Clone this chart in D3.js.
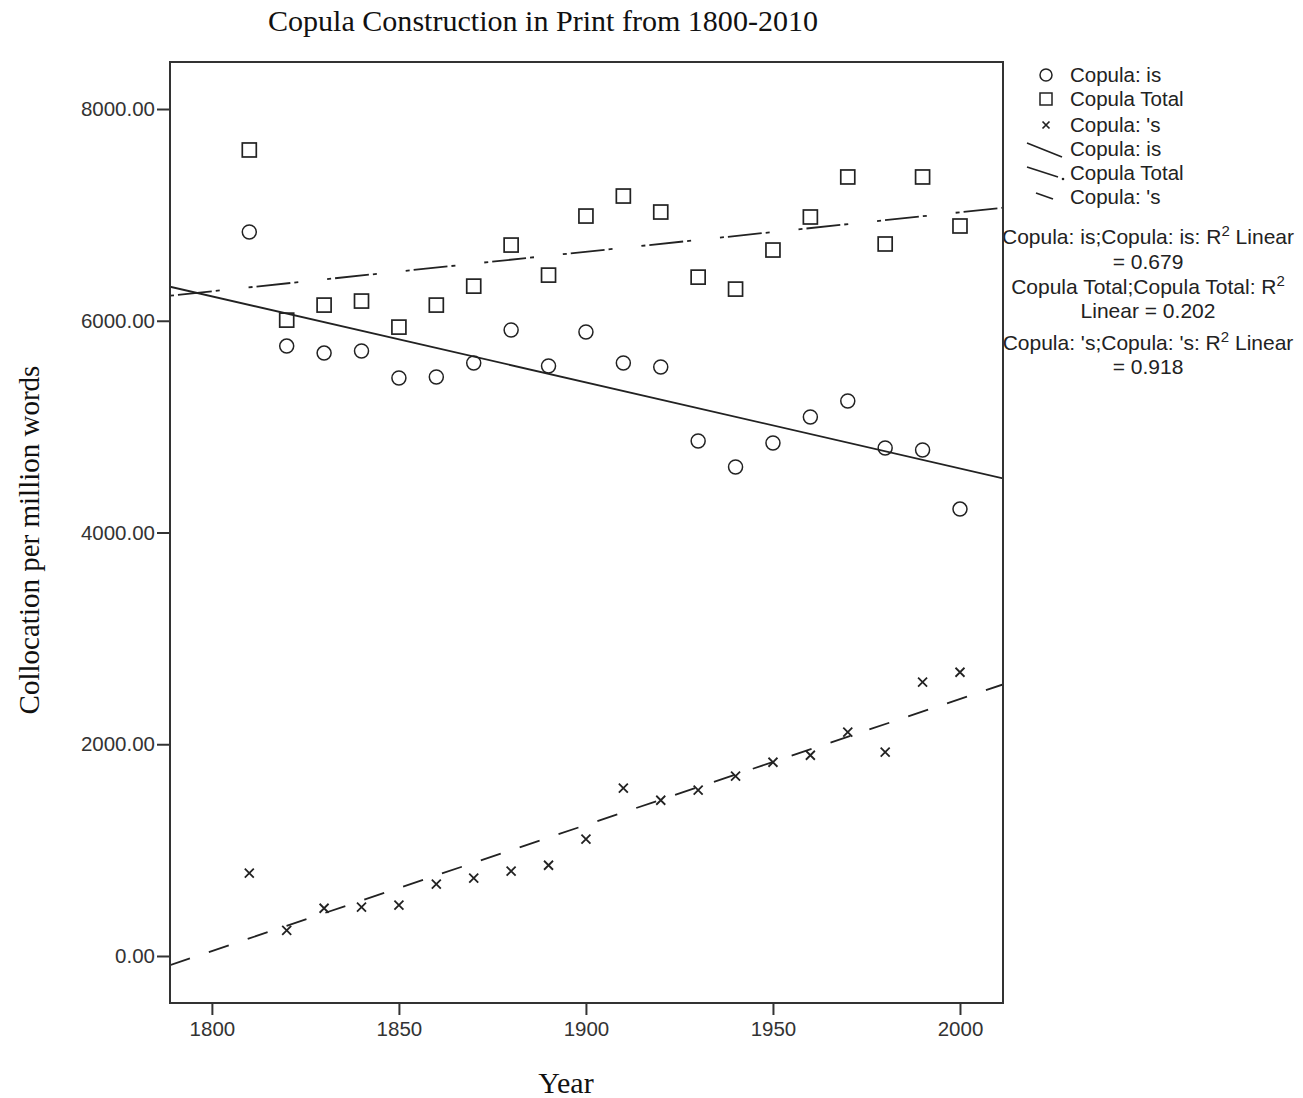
<!DOCTYPE html>
<html>
<head>
<meta charset="utf-8">
<script src="https://cdn.jsdelivr.net/npm/d3@7"></script>
<style>
  body { margin: 0; background: #fff; }
  svg { display: block; }
</style>
</head>
<body>
<svg id="chart" width="1303" height="1098"></svg>
<script>
const years = [1810, 1820, 1830, 1840, 1850, 1860, 1870, 1880, 1890, 1900,
  1910, 1920, 1930, 1940, 1950, 1960, 1970, 1980, 1990, 2000];
const copulaIs = [6838, 5761, 5695, 5714, 5459, 5469, 5601, 5913, 5573, 5894,
  5601, 5563, 4864, 4619, 4845, 5091, 5242, 4798, 4779, 4221];
const copulaTotal = [7613, 6006, 6148, 6186, 5940, 6148, 6327, 6715, 6431, 6989,
  7178, 7027, 6412, 6299, 6668, 6980, 7358, 6725, 7358, 6895];
const copulaS = [782, 243, 451, 461, 480, 678, 735, 801, 857, 1103,
  1585, 1471, 1566, 1698, 1830, 1896, 2114, 1925, 2586, 2680];
const xTicks = [1800, 1850, 1900, 1950, 2000];
const yTicks = [0, 2000, 4000, 6000, 8000];
const seriesNames = ["Copula: is", "Copula Total", "Copula: 's"];
const r2Lines = [
  ["Copula: is;Copula: is: R", "2", " Linear"],
  ["= 0.679"],
  ["Copula Total;Copula Total: R", "2", ""],
  ["Linear = 0.202"],
  ["Copula: 's;Copula: 's: R", "2", " Linear"],
  ["= 0.918"]
];

const ink = "#222";
const svg = d3.select("#chart");

const pLeft = 170, pRight = 1003, pTop = 62, pBottom = 1003;
const x = d3.scaleLinear().domain([1788.8, 2011.5]).range([pLeft, pRight]);
const y = d3.scaleLinear().domain([-444, 8444]).range([pBottom, pTop]);

// least squares fit line
function fit(xs, ys) {
  const mx = d3.mean(xs), my = d3.mean(ys);
  let sxy = 0, sxx = 0;
  xs.forEach((v, i) => { sxy += (v - mx) * (ys[i] - my); sxx += (v - mx) ** 2; });
  const b = sxy / sxx;
  return (t) => my + b * (t - mx);
}

// title
svg.append("text")
  .attr("x", 543).attr("y", 31)
  .attr("text-anchor", "middle")
  .style("font-family", "Liberation Serif, serif")
  .style("font-size", "30px")
  .attr("textLength", 550)
  .attr("lengthAdjust", "spacingAndGlyphs")
  .attr("fill", "#111")
  .text("Copula Construction in Print from 1800-2010");

// axis titles
svg.append("text")
  .attr("transform", "translate(39,540) rotate(-90)")
  .attr("text-anchor", "middle")
  .style("font-family", "Liberation Serif, serif")
  .style("font-size", "29px")
  .attr("fill", "#111")
  .text("Collocation per million words");

svg.append("text")
  .attr("x", 566).attr("y", 1093)
  .attr("text-anchor", "middle")
  .style("font-family", "Liberation Serif, serif")
  .style("font-size", "30px")
  .attr("fill", "#111")
  .text("Year");

svg.append("clipPath").attr("id", "plotclip")
  .append("rect").attr("x", pLeft).attr("y", pTop)
  .attr("width", pRight - pLeft).attr("height", pBottom - pTop);

const plot = svg.append("g").attr("clip-path", "url(#plotclip)");

// fit lines
const lineStyles = [null, "4,4,34,4,4,29", "21,20"];
[copulaIs, copulaTotal, copulaS].forEach((vals, i) => {
  const f = fit(years, vals);
  const d0 = x.domain()[0], d1 = x.domain()[1];
  plot.append("line")
    .attr("x1", x(d0)).attr("y1", y(f(d0)))
    .attr("x2", x(d1)).attr("y2", y(f(d1)))
    .attr("stroke", ink)
    .attr("stroke-width", 1.8)
    .attr("stroke-dasharray", lineStyles[i]);
});

// markers
plot.selectAll("circle.is").data(years).enter().append("circle")
  .attr("class", "is")
  .attr("cx", (d) => x(d))
  .attr("cy", (d, i) => y(copulaIs[i]))
  .attr("r", 7)
  .attr("fill", "none").attr("stroke", ink).attr("stroke-width", 1.5);

plot.selectAll("rect.total").data(years).enter().append("rect")
  .attr("class", "total")
  .attr("x", (d) => x(d) - 7)
  .attr("y", (d, i) => y(copulaTotal[i]) - 7)
  .attr("width", 14).attr("height", 14)
  .attr("fill", "none").attr("stroke", ink).attr("stroke-width", 1.7);

plot.selectAll("path.s").data(years).enter().append("path")
  .attr("class", "s")
  .attr("d", (d, i) => {
    const cx = x(d), cy = y(copulaS[i]), r = 4.5;
    return `M${cx - r},${cy - r}L${cx + r},${cy + r}M${cx - r},${cy + r}L${cx + r},${cy - r}`;
  })
  .attr("stroke", ink).attr("stroke-width", 1.8);

// frame
svg.append("rect")
  .attr("x", pLeft).attr("y", pTop)
  .attr("width", pRight - pLeft).attr("height", pBottom - pTop)
  .attr("fill", "none").attr("stroke", "#333").attr("stroke-width", 2);

// axes
const yAxis = svg.append("g")
  .attr("transform", `translate(${pLeft},0)`)
  .call(d3.axisLeft(y).tickValues(yTicks).tickFormat(d3.format(".2f")).tickSize(13).tickPadding(2));
const xAxis = svg.append("g")
  .attr("transform", `translate(0,${pBottom})`)
  .call(d3.axisBottom(x).tickValues(xTicks).tickFormat(d3.format("d")).tickSize(12).tickPadding(6));
[yAxis, xAxis].forEach((g) => {
  g.select(".domain").remove();
  g.selectAll("line").attr("stroke", "#333").attr("stroke-width", 2);
  g.selectAll("text")
    .style("font-family", "Liberation Sans, Arial, sans-serif")
    .style("font-size", "20.5px")
    .attr("fill", "#333");
});

// legend
const legendFont = "Liberation Sans, Arial, sans-serif";
const lg = svg.append("g");
const rowY = [75, 99, 125, 149, 173, 197];
lg.append("circle").attr("cx", 1046).attr("cy", rowY[0]).attr("r", 6)
  .attr("fill", "none").attr("stroke", ink).attr("stroke-width", 1.5);
lg.append("rect").attr("x", 1040).attr("y", rowY[1] - 6).attr("width", 12).attr("height", 12)
  .attr("fill", "none").attr("stroke", ink).attr("stroke-width", 1.5);
lg.append("path")
  .attr("d", `M1042.5,${rowY[2] - 3.5}L1049.5,${rowY[2] + 3.5}M1042.5,${rowY[2] + 3.5}L1049.5,${rowY[2] - 3.5}`)
  .attr("stroke", ink).attr("stroke-width", 1.7);
lg.append("line").attr("x1", 1027).attr("y1", 143).attr("x2", 1062).attr("y2", 157)
  .attr("stroke", ink).attr("stroke-width", 1.7);
lg.append("line").attr("x1", 1027).attr("y1", 167).attr("x2", 1058).attr("y2", 177)
  .attr("stroke", ink).attr("stroke-width", 1.7);
lg.append("circle").attr("cx", 1063).attr("cy", 179).attr("r", 1.3).attr("fill", ink);
lg.append("line").attr("x1", 1036).attr("y1", 193).attr("x2", 1053).attr("y2", 199)
  .attr("stroke", ink).attr("stroke-width", 1.7);

const legendLabels = seriesNames.concat(seriesNames);
lg.selectAll("text.lab").data(legendLabels).enter().append("text")
  .attr("class", "lab")
  .attr("x", 1070).attr("y", (d, i) => rowY[i] + 7)
  .style("font-family", legendFont).style("font-size", "20.5px")
  .attr("fill", "#222")
  .text((d) => d);

svg.append("clipPath").attr("id", "r2clip")
  .append("rect").attr("x", pRight + 1).attr("y", 210).attr("width", 400).attr("height", 180);

const r2g = svg.append("g").attr("clip-path", "url(#r2clip)");
const r2Y = [244, 269, 294, 318, 350, 374];
r2Lines.forEach((parts, i) => {
  const t = r2g.append("text")
    .attr("x", 1148).attr("y", r2Y[i])
    .attr("text-anchor", "middle")
    .style("font-family", legendFont).style("font-size", "21px")
    .attr("fill", "#222");
  t.append("tspan").text(parts[0]);
  if (parts.length > 1) {
    t.append("tspan").attr("dy", -8).style("font-size", "15px").text(parts[1]);
    t.append("tspan").attr("dy", 8).text(parts[2]);
  }
});
</script>
</body>
</html>
